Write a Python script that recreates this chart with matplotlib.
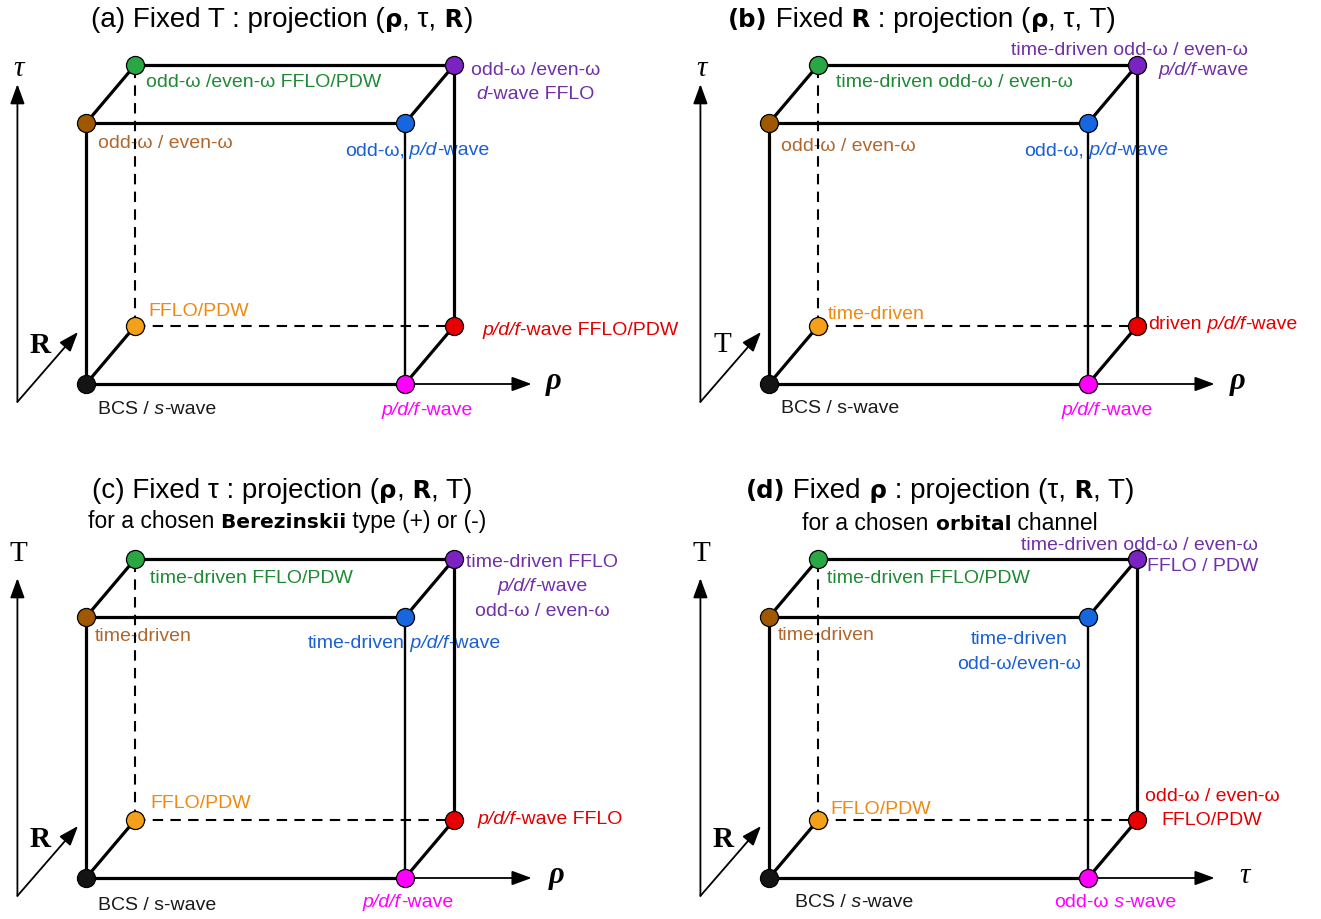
import numpy as np
import matplotlib.pyplot as plt

# ---- chart content -------------------------------------------------------
# cube corners named by (horizontal, vertical, depth) index
corners = ['000', '100', '010', '110', '001', '101', '011', '111']
node_colors = {'000': '#141414', '100': '#ff00ff', '010': '#a05800', '110': '#1666e0',
               '001': '#f5a01a', '101': '#e80000', '011': '#2aa745', '111': '#7a22c2'}
text_colors = {'000': '#1a1a1a', '100': '#ff00ff', '010': '#b0672e', '110': '#1a5fd6',
               '001': '#ee8a12', '101': '#e00000', '011': '#1f8a35', '111': '#7030a8'}

# axis names: (horizontal, vertical, depth) with font style
axis_names = [[('ρ', 'i'), ('τ', 'i'), ('R', 'b')],
              [('ρ', 'i'), ('τ', 'i'), ('T', 'n')],
              [('ρ', 'i'), ('T', 'n'), ('R', 'b')],
              [('τ', 'i'), ('T', 'n'), ('R', 'b')]]

titles = [[('(a) Fixed T : projection (', 'n'), ('ρ', 'b'), (', τ,', 'n'), (' R', 'b'), (')', 'n')],
          [('(b)', 'b'), (' Fixed', 'n'), (' R', 'b'), (' : projection (', 'n'), ('ρ', 'b'), (', τ, T)', 'n')],
          [('(c) Fixed τ : projection (', 'n'), ('ρ', 'b'), (',', 'n'), (' R', 'b'), (', T)', 'n')],
          [('(d)', 'b'), (' Fixed', 'n'), (' ρ', 'b'), (' : projection (τ,', 'n'), (' R', 'b'), (', T)', 'n')]]
subtitles = [None, None,
             [('for a chosen', 'n'), (' Berezinskii', 'b'), (' type (+) or (-)', 'n')],
             [('for a chosen', 'n'), (' orbital', 'b'), (' channel', 'n')]]

N = 'n'
I = 'i'
labels_a = {'000': [[('BCS /', N), (' s', I), ('-wave', N)]],
            '100': [[('p/d/f', I), ('-wave', N)]],
            '010': [[('odd-ω / even-ω', N)]],
            '110': [[('odd-ω,', N), (' p/d', I), ('-wave', N)]],
            '011': [[('odd-ω /even-ω FFLO/PDW', N)]],
            '111': [[('odd-ω /even-ω', N)], [('d', I), ('-wave FFLO', N)]],
            '001': [[('FFLO/PDW', N)]],
            '101': [[('p/d/f', I), ('-wave FFLO/PDW', N)]]}
labels_b = {'000': [[('BCS / s-wave', N)]],
            '100': [[('p/d/f', I), ('-wave', N)]],
            '010': [[('odd-ω / even-ω', N)]],
            '110': [[('odd-ω,', N), (' p/d', I), ('-wave', N)]],
            '011': [[('time-driven odd-ω / even-ω', N)]],
            '111': [[('time-driven odd-ω / even-ω', N)], [('p/d/f', I), ('-wave', N)]],
            '001': [[('time-driven', N)]],
            '101': [[('driven', N), (' p/d/f', I), ('-wave', N)]]}
labels_c = {'000': [[('BCS / s-wave', N)]],
            '100': [[('p/d/f', I), ('-wave', N)]],
            '010': [[('time-driven', N)]],
            '110': [[('time-driven', N), (' p/d/f', I), ('-wave', N)]],
            '011': [[('time-driven FFLO/PDW', N)]],
            '111': [[('time-driven FFLO', N)], [('p/d/f', I), ('-wave', N)], [('odd-ω / even-ω', N)]],
            '001': [[('FFLO/PDW', N)]],
            '101': [[('p/d/f', I), ('-wave FFLO', N)]]}
labels_d = {'000': [[('BCS /', N), (' s', I), ('-wave', N)]],
            '100': [[('odd-ω', N), (' s', I), ('-wave', N)]],
            '010': [[('time-driven', N)]],
            '110': [[('time-driven', N)], [('odd-ω/even-ω', N)]],
            '011': [[('time-driven FFLO/PDW', N)]],
            '111': [[('time-driven odd-ω / even-ω', N)], [('FFLO / PDW', N)]],
            '001': [[('FFLO/PDW', N)]],
            '101': [[('odd-ω / even-ω', N)], [('FFLO/PDW', N)]]}
panel_labels = [labels_a, labels_b, labels_c, labels_d]

# ---- layout ---------------------------------------------------------------
W, H = 1321, 920
S = 319.0            # pixels per cube unit
DX, DY, HV = 0.154, 0.182, 0.818
quad = [(0, 0), (661, 0), (0, 460), (661, 460)]       # top-left of each panel
origin = [(86, 385), (108, 385), (86, 419), (108, 419)]  # black corner within panel
title_pos = [(282, 17), (922, 17), (282, 488), (940, 488)]
subtitle_pos = [None, None, (287, 520), (950, 522)]
hlabel_x = [1.465, 1.47, 1.475, 1.49]
vlabel_y = [0.99, 0.99, 1.02, 1.02]
# label offsets from node in pixels: dx, dy (down), alignment, line spacing
offs = [
    {'000': (12, 22, 'left', 0), '100': (22, 23, 'center', 0), '010': (12, 17, 'left', 0),
     '110': (12, 24, 'center', 0), '011': (11, 14, 'left', 0), '111': (81, 2, 'center', 24),
     '001': (13, -18, 'left', 0), '101': (28, 1, 'left', 0)},
    {'000': (12, 21, 'left', 0), '100': (19, 23, 'center', 0), '010': (12, 20, 'left', 0),
     '110': (8, 24, 'center', 0), '011': (18, 14, 'left', 0), '111': (111, -18, 'right', 20),
     '001': (10, -15, 'left', 0), '101': (11, -5, 'left', 0)},
    {'000': (12, 24, 'left', 0), '100': (3, 21, 'center', 0), '010': (9, 16, 'left', 0),
     '110': (-1, 23, 'center', 0), '011': (15, 16, 'left', 0), '111': (88, 0, 'center', 24.5),
     '001': (15, -20, 'left', 0), '101': (23, -4, 'left', 0)},
    {'000': (26, 21, 'left', 0), '100': (27, 21, 'center', 0), '010': (9, 15, 'left', 0),
     '110': (-69, 19, 'center', 25), '011': (9, 16, 'left', 0), '111': (121, -17, 'right', 21),
     '001': (12, -14, 'left', 0), '101': (75, -27, 'center', 24)},
]

solid_edges = [('000', '100'), ('000', '010'), ('010', '110'), ('011', '111'),
               ('101', '111'), ('000', '001'), ('100', '101'), ('010', '011'), ('110', '111')]
thin_edges = [('100', '110')]
dashed_edges = [('001', '011'), ('001', '101')]

SANS = 'Liberation Sans'
SERIF = 'Liberation Serif'
BOLD = 'DejaVu Sans'


def proj(c):
    h, v, d = (int(ch) for ch in c)
    return h + DX * d, HV * v + DY * d


fig = plt.figure(figsize=(W / 100, H / 100), dpi=100)
renderer = fig.canvas.get_renderer()


def rich(ax, x, y, pieces, ha='left', size=14, color='k'):
    # x, y: figure pixels from top-left, y = vertical centre of the line
    arts = []
    for s, st in pieces:
        kw = dict(fontsize=size, color=color, family=SANS, va='baseline', zorder=1)
        if st == 'i':
            kw['style'] = 'italic'
        if st == 'b':
            kw['family'] = BOLD
            kw['weight'] = 'bold'
            kw['fontsize'] = size * 0.88
        arts.append(ax.annotate(s, (0, 0), xycoords='figure pixels', **kw))
    widths = [t.get_window_extent(renderer).width for t in arts]
    total = sum(widths)
    x0 = x - {'left': 0, 'center': total / 2, 'right': total}[ha]
    base = H - (y + 0.36 * size * 100 / 72)
    for t, w in zip(arts, widths):
        t.xy = (x0, base)
        t.xyann = (x0, base)
        x0 += w


for k in range(4):
    qx, qy = quad[k]
    ox, oy = origin[k]
    ax = fig.add_axes([qx / W, 1 - (qy + 460) / H, 660 / W, 460 / H])
    ax.set_xlim(-ox / S, (660 - ox) / S)
    ax.set_ylim(-(460 - oy) / S, oy / S)
    ax.axis('off')

    for a, b in solid_edges + thin_edges:
        (x1, y1), (x2, y2) = proj(a), proj(b)
        ax.plot([x1, x2], [y1, y2], color='k', lw=1.7 if (a, b) in thin_edges else 2.3,
                solid_capstyle='round', zorder=2)
    for a, b in dashed_edges:
        (x1, y1), (x2, y2) = proj(a), proj(b)
        ax.plot([x1, x2], [y1, y2], color='k', lw=1.5, dashes=(5, 3.5), zorder=2)

    # coordinate arrows
    arr = dict(arrowstyle='-|>,head_length=0.6,head_width=0.22', color='k', lw=1.3,
               mutation_scale=20, shrinkA=0, shrinkB=0)
    base_pt = (-0.215, -0.056)
    ax.annotate('', xy=(-0.215, 0.94), xytext=base_pt, arrowprops=arr, zorder=2)
    ax.annotate('', xy=(-0.025, 0.163), xytext=base_pt, arrowprops=arr, zorder=2)
    ax.annotate('', xy=(1.397, 0), xytext=proj('100'), arrowprops=arr, zorder=2)

    def axis_text(x, y, item):
        s, st = item
        kw = dict(family=SERIF, fontsize=21, ha='center', va='center', color='k')
        if st == 'i':
            kw['style'] = 'italic'
            if s == 'ρ':
                kw['weight'] = 'bold'
                kw['fontsize'] = 22
        if st == 'b':
            kw['weight'] = 'bold'
        ax.text(x, y, s, **kw)

    hname, vname, dname = axis_names[k]
    axis_text(hlabel_x[k], 0.01, hname)
    axis_text(-0.212, vlabel_y[k], vname)
    axis_text(-0.145, 0.125, dname)

    # nodes
    for c in corners:
        x, y = proj(c)
        ax.plot(x, y, 'o', ms=13, mfc=node_colors[c], mec='k', mew=0.9, zorder=4)

    # node labels
    for c, lines in panel_labels[k].items():
        px, py = ax.transData.transform(proj(c))
        dx, dy, ha, sp = offs[k][c]
        for j, line in enumerate(lines):
            rich(ax, px + dx, (H - py) + dy + j * sp, line, ha=ha, size=14, color=text_colors[c])

    tx, ty = title_pos[k]
    rich(ax, tx, ty, titles[k], ha='center', size=20, color='k')
    if subtitles[k] is not None:
        sx, sy = subtitle_pos[k]
        rich(ax, sx, sy, subtitles[k], ha='center', size=16.5, color='k')

fig.savefig('out.png', dpi=100)
